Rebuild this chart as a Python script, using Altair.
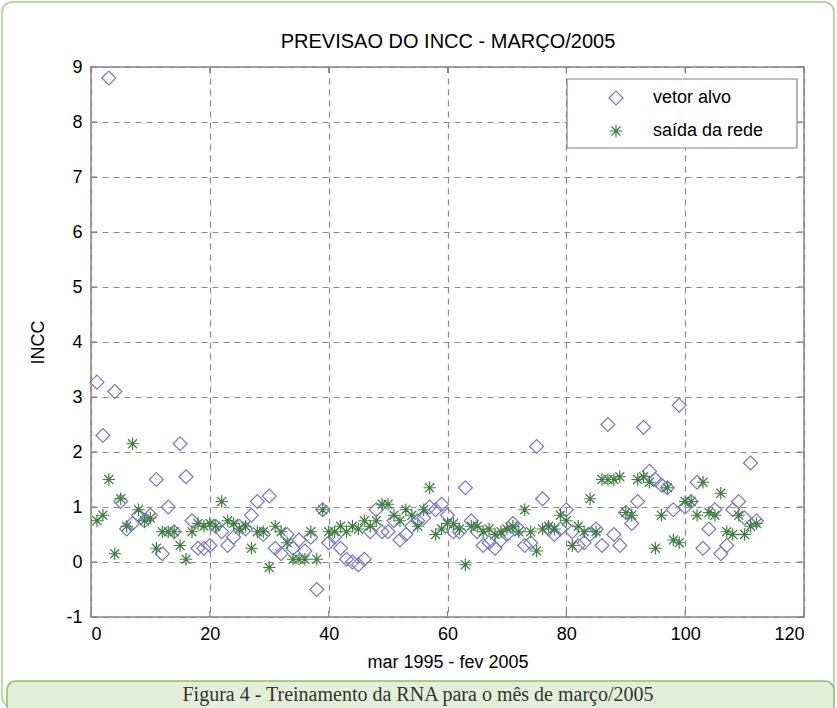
import altair as alt
import pandas as pd

months = list(range(1, 113))

vetor_alvo = [
    3.27, 2.30, 8.80, 3.10, 1.10, 0.60, 0.70, 0.85, 0.75, 0.85,
    1.50, 0.15, 1.00, 0.55, 2.15, 1.55, 0.75, 0.25, 0.25, 0.30,
    0.65, 0.55, 0.30, 0.45, 0.65, 0.60, 0.85, 1.10, 0.50, 1.20,
    0.25, 0.15, 0.50, 0.25, 0.40, 0.20, 0.45, -0.50, 0.95, 0.35,
    0.45, 0.25, 0.05, 0.00, -0.05, 0.05, 0.55, 0.95, 0.55, 0.55,
    0.75, 0.40, 0.50, 0.65, 0.75, 0.80, 1.00, 0.95, 1.05, 0.85,
    0.55, 0.55, 1.35, 0.75, 0.55, 0.30, 0.35, 0.25, 0.40, 0.50,
    0.70, 0.60, 0.30, 0.35, 2.10, 1.15, 0.60, 0.50, 0.60, 0.95,
    0.55, 0.30, 0.35, 0.50, 0.60, 0.30, 2.50, 0.50, 0.30, 0.90,
    0.70, 1.10, 2.45, 1.65, 1.50, 1.40, 1.35, 0.95, 2.85, 1.00,
    1.10, 1.45, 0.25, 0.60, 0.95, 0.15, 0.30, 0.95, 1.10, 0.80,
    1.80, 0.75,
]

saida_rede = [
    0.75, 0.85, 1.50, 0.15, 1.15, 0.65, 2.15, 0.95, 0.75, 0.80,
    0.25, 0.55, 0.55, 0.55, 0.30, 0.05, 0.55, 0.70, 0.65, 0.70,
    0.65, 1.10, 0.75, 0.70, 0.60, 0.65, 0.25, 0.55, 0.55, -0.10,
    0.65, 0.55, 0.35, 0.05, 0.05, 0.05, 0.55, 0.05, 0.95, 0.55,
    0.55, 0.65, 0.55, 0.65, 0.60, 0.75, 0.65, 0.75, 1.05, 1.05,
    0.85, 0.75, 0.95, 0.85, 0.65, 0.95, 1.35, 0.50, 0.60, 0.70,
    0.70, 0.60, -0.05, 0.65, 0.65, 0.55, 0.60, 0.50, 0.55, 0.60,
    0.65, 0.55, 0.95, 0.55, 0.20, 0.60, 0.65, 0.60, 0.85, 0.75,
    0.30, 0.65, 0.55, 1.15, 0.55, 1.50, 1.50, 1.50, 1.55, 0.90,
    0.85, 1.50, 1.55, 1.45, 0.25, 0.85, 1.35, 0.40, 0.35, 1.10,
    1.10, 0.85, 1.45, 0.90, 0.85, 1.25, 0.55, 0.50, 0.85, 0.50,
    0.65, 0.70,
]

series_names = ["vetor alvo", "saída da rede"]
x_ticks = [0, 20, 40, 60, 80, 100, 120]
y_ticks = [-1, 0, 1, 2, 3, 4, 5, 6, 7, 8, 9]

title_text = "PREVISAO DO INCC - MARÇO/2005"
x_title = "mar 1995 - fev 2005"
y_title = "INCC"
caption = "Figura 4 - Treinamento da RNA para o mês de março/2005"

df = pd.DataFrame({
    "mes": months + months,
    "incc": vetor_alvo + saida_rede,
    "serie": [series_names[0]] * len(months) + [series_names[1]] * len(months),
})

W, H = 713, 550
FONT = "Liberation Sans"
ASTER = "M-1,0L1,0M0,-1L0,1M-0.72,-0.72L0.72,0.72M-0.72,0.72L0.72,-0.72"
GRID = "#8e8888"
FRAME = "#8a8282"

xs = alt.Scale(domain=[0, 120], nice=False, zero=False)
ys = alt.Scale(domain=[-1, 9], nice=False, zero=False)

x_axis = alt.Axis(values=x_ticks, title=x_title, grid=True, ticks=False,
                  domain=False, labelPadding=8, titlePadding=10,
                  labelExpr="datum.value",
                  gridDash=[6, 5], gridColor=GRID, gridWidth=1.2)
y_axis = alt.Axis(values=y_ticks, title=y_title, grid=True, ticks=False,
                  domain=False, labelPadding=9, titlePadding=18,
                  labelExpr="datum.value",
                  gridDash=[6, 5], gridColor=GRID, gridWidth=1.2)

legend = alt.Legend(
    title=None, orient="none", legendX=476, legendY=12,
    labelFont=FONT, labelFontSize=18, labelColor="black",
    padding=10, symbolOffset=30, labelOffset=28, rowPadding=14,
    symbolStrokeWidth=1.2,
)

points = alt.Chart(df).mark_point(filled=False, strokeWidth=1.2, opacity=1).encode(
    x=alt.X("mes:Q", scale=xs, axis=x_axis),
    y=alt.Y("incc:Q", scale=ys, axis=y_axis),
    shape=alt.Shape("serie:N", scale=alt.Scale(domain=series_names, range=["diamond", ASTER]),
                    legend=legend),
    color=alt.Color("serie:N", scale=alt.Scale(domain=series_names, range=["#7676d0", "#3f7f3f"]),
                    legend=legend),
    size=alt.Size("serie:N", scale=alt.Scale(domain=series_names, range=[195, 155]),
                  legend=legend),
)

xt = pd.DataFrame({"v": x_ticks})
yt = pd.DataFrame({"v": y_ticks})

tick_bottom = alt.Chart(xt).mark_rule(color=FRAME, strokeWidth=1.2).encode(
    x=alt.X("v:Q", scale=xs, axis=x_axis), y=alt.value(H), y2=alt.value(H - 6))
tick_top = alt.Chart(xt).mark_rule(color=FRAME, strokeWidth=1.2).encode(
    x=alt.X("v:Q", scale=xs, axis=x_axis), y=alt.value(0), y2=alt.value(6))
tick_left = alt.Chart(yt).mark_rule(color=FRAME, strokeWidth=1.2).encode(
    y=alt.Y("v:Q", scale=ys, axis=y_axis), x=alt.value(0), x2=alt.value(6))
tick_right = alt.Chart(yt).mark_rule(color=FRAME, strokeWidth=1.2).encode(
    y=alt.Y("v:Q", scale=ys, axis=y_axis), x=alt.value(W), x2=alt.value(W - 6))

deco = pd.DataFrame({"t": [caption], "title": [title_text]})
outer = alt.Chart(deco).mark_rect(fill=None, stroke="#9fd383", strokeWidth=1.5,
                                  cornerRadius=10).encode(
    x=alt.value(-89), x2=alt.value(743), y=alt.value(-65), y2=alt.value(640))
cap_box = alt.Chart(deco).mark_rect(fill="#e4efd9", stroke="#86c266", strokeWidth=1.5,
                                    cornerRadius=9).encode(
    x=alt.value(-84), x2=alt.value(743), y=alt.value(614), y2=alt.value(650))
cap_text = alt.Chart(deco).mark_text(font="Liberation Serif", fontSize=20, color="#333333",
                                     align="center", baseline="middle").encode(
    x=alt.value(327), y=alt.value(628), text="t:N")
title_mark = alt.Chart(deco).mark_text(font=FONT, fontSize=20, color="black",
                                       align="center", baseline="middle").encode(
    x=alt.value(357), y=alt.value(-25), text="title:N")
legend_box = alt.Chart(deco).mark_rect(fill="white", stroke=FRAME, strokeWidth=1.2).encode(
    x=alt.value(476), x2=alt.value(706), y=alt.value(12), y2=alt.value(81))

chart = alt.layer(
    outer, cap_box, cap_text, title_mark, legend_box, points,
    tick_bottom, tick_top, tick_left, tick_right
).properties(
    width=W, height=H,
    autosize=alt.AutoSizeParams(type="none"),
    padding={"left": 91, "top": 67, "right": 33, "bottom": 91},
    background="white",
).configure_view(
    stroke=FRAME, strokeWidth=1.5
).configure_axis(
    labelFont=FONT, labelFontSize=18, labelColor="black",
    titleFont=FONT, titleFontSize=18, titleColor="black", titleFontWeight="normal",
)

chart.save("out.html", embed_options={"renderer": "svg", "actions": False})
